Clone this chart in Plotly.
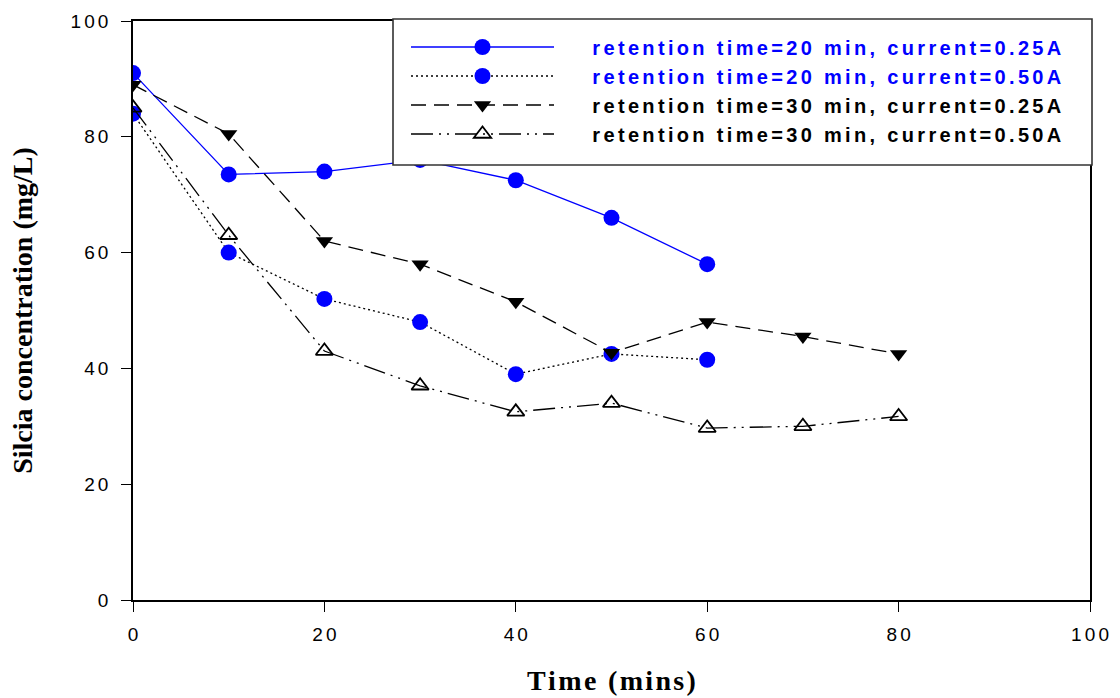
import plotly.graph_objects as go

time_20 = [0, 10, 20, 30, 40, 50, 60]
time_30 = [0, 10, 20, 30, 40, 50, 60, 70, 80]

rt20_i025 = [91, 73.5, 74, 76, 72.5, 66, 58]
rt20_i050 = [84, 60, 52, 48, 39, 42.5, 41.5]
rt30_i025 = [89, 80.5, 62, 58, 51.5, 42.7, 48, 45.5, 42.5]
rt30_i050 = [85, 63, 43, 37, 32.5, 34, 29.7, 30, 31.7]

names = [
    "retention time=20 min, current=0.25A",
    "retention time=20 min, current=0.50A",
    "retention time=30 min, current=0.25A",
    "retention time=30 min, current=0.50A",
]

x_ticks = [0, 20, 40, 60, 80, 100]
y_ticks = [0, 20, 40, 60, 80, 100]

BLUE = "#0000FF"
SANS = "Liberation Sans, Arial, sans-serif"
SERIF = "Liberation Serif, Times New Roman, serif"
SP6 = "\u2006"   # six-per-em space, used as letter spacing
HAIR = "\u200a"

def spaced(s, sep=SP6):
    return sep.join(s)

def lname(n, color):
    lead = "\u00a0" * 6
    return f'{lead}<span style="color:{color}"><b>{spaced(n)}</b></span>'

fig = go.Figure()

fig.add_trace(go.Scatter(
    x=time_20, y=rt20_i025, mode="lines+markers", name=lname(names[0], BLUE),
    line=dict(color=BLUE, width=1.3, dash="solid"),
    marker=dict(symbol="circle", size=16, color=BLUE, line=dict(width=0)),
))
fig.add_trace(go.Scatter(
    x=time_20, y=rt20_i050, mode="lines+markers", name=lname(names[1], BLUE),
    line=dict(color="black", width=1.3, dash="2px,3px"),
    marker=dict(symbol="circle", size=16, color=BLUE, line=dict(width=0)),
))
fig.add_trace(go.Scatter(
    x=time_30, y=rt30_i025, mode="lines+markers", name=lname(names[2], "black"),
    line=dict(color="black", width=1.3, dash="15px,8px"),
    marker=dict(symbol="triangle-down", size=15, color="black", line=dict(width=0)),
))
fig.add_trace(go.Scatter(
    x=time_30, y=rt30_i050, mode="lines+markers", name=lname(names[3], "black"),
    line=dict(color="black", width=1.3, dash="22px,6px,2px,6px,2px,6px"),
    marker=dict(symbol="triangle-up-open", size=15, color="black", line=dict(width=1.8, color="black")),
))

# legend frame (paper coordinates)
fig.add_shape(
    type="rect", xref="paper", yref="paper",
    x0=(393 - 133) / 957, x1=(1092 - 133) / 957,
    y0=(600 - 165) / 579, y1=(600 - 19) / 579,
    line=dict(color="#333333", width=1.6), fillcolor="white", layer="above",
)

fig.update_layout(
    width=1120, height=698,
    margin=dict(l=133, r=30, t=21, b=98),
    paper_bgcolor="white", plot_bgcolor="white",
    showlegend=True,
    legend=dict(
        x=(406 - 133) / 957, y=(600 - 27.5) / 579, xanchor="left", yanchor="top",
        bgcolor="rgba(0,0,0,0)", borderwidth=0,
        font=dict(family=SANS, size=20, color="black"),
        itemwidth=143, tracegroupgap=0,
    ),
    xaxis=dict(
        range=[0, 100], tickvals=x_ticks, ticktext=[spaced(str(v)) for v in x_ticks],
        showgrid=False, zeroline=False, automargin=False,
        showline=True, linecolor="black", linewidth=1.5, mirror=True,
        ticks="outside", ticklen=10, tickwidth=1.2, tickcolor="black",
        ticklabelstandoff=6,
        tickfont=dict(family=SANS, size=19, color="black"),
        title=dict(text="<b>" + spaced("Time (mins)", HAIR) + "</b>",
                   font=dict(family=SERIF, size=28, color="black"), standoff=27),
    ),
    yaxis=dict(
        range=[0, 100], tickvals=y_ticks, ticktext=[spaced(str(v)) for v in y_ticks],
        showgrid=False, zeroline=False, automargin=False,
        showline=True, linecolor="black", linewidth=1.5, mirror=True,
        ticks="outside", ticklen=10, tickwidth=1.2, tickcolor="black",
        ticklabelstandoff=9,
        tickfont=dict(family=SANS, size=19, color="black"),
        title=dict(text="<b>Silcia concentration (mg/L)</b>",
                   font=dict(family=SERIF, size=28, color="black"), standoff=30),
    ),
)

fig.write_html("out.html")
